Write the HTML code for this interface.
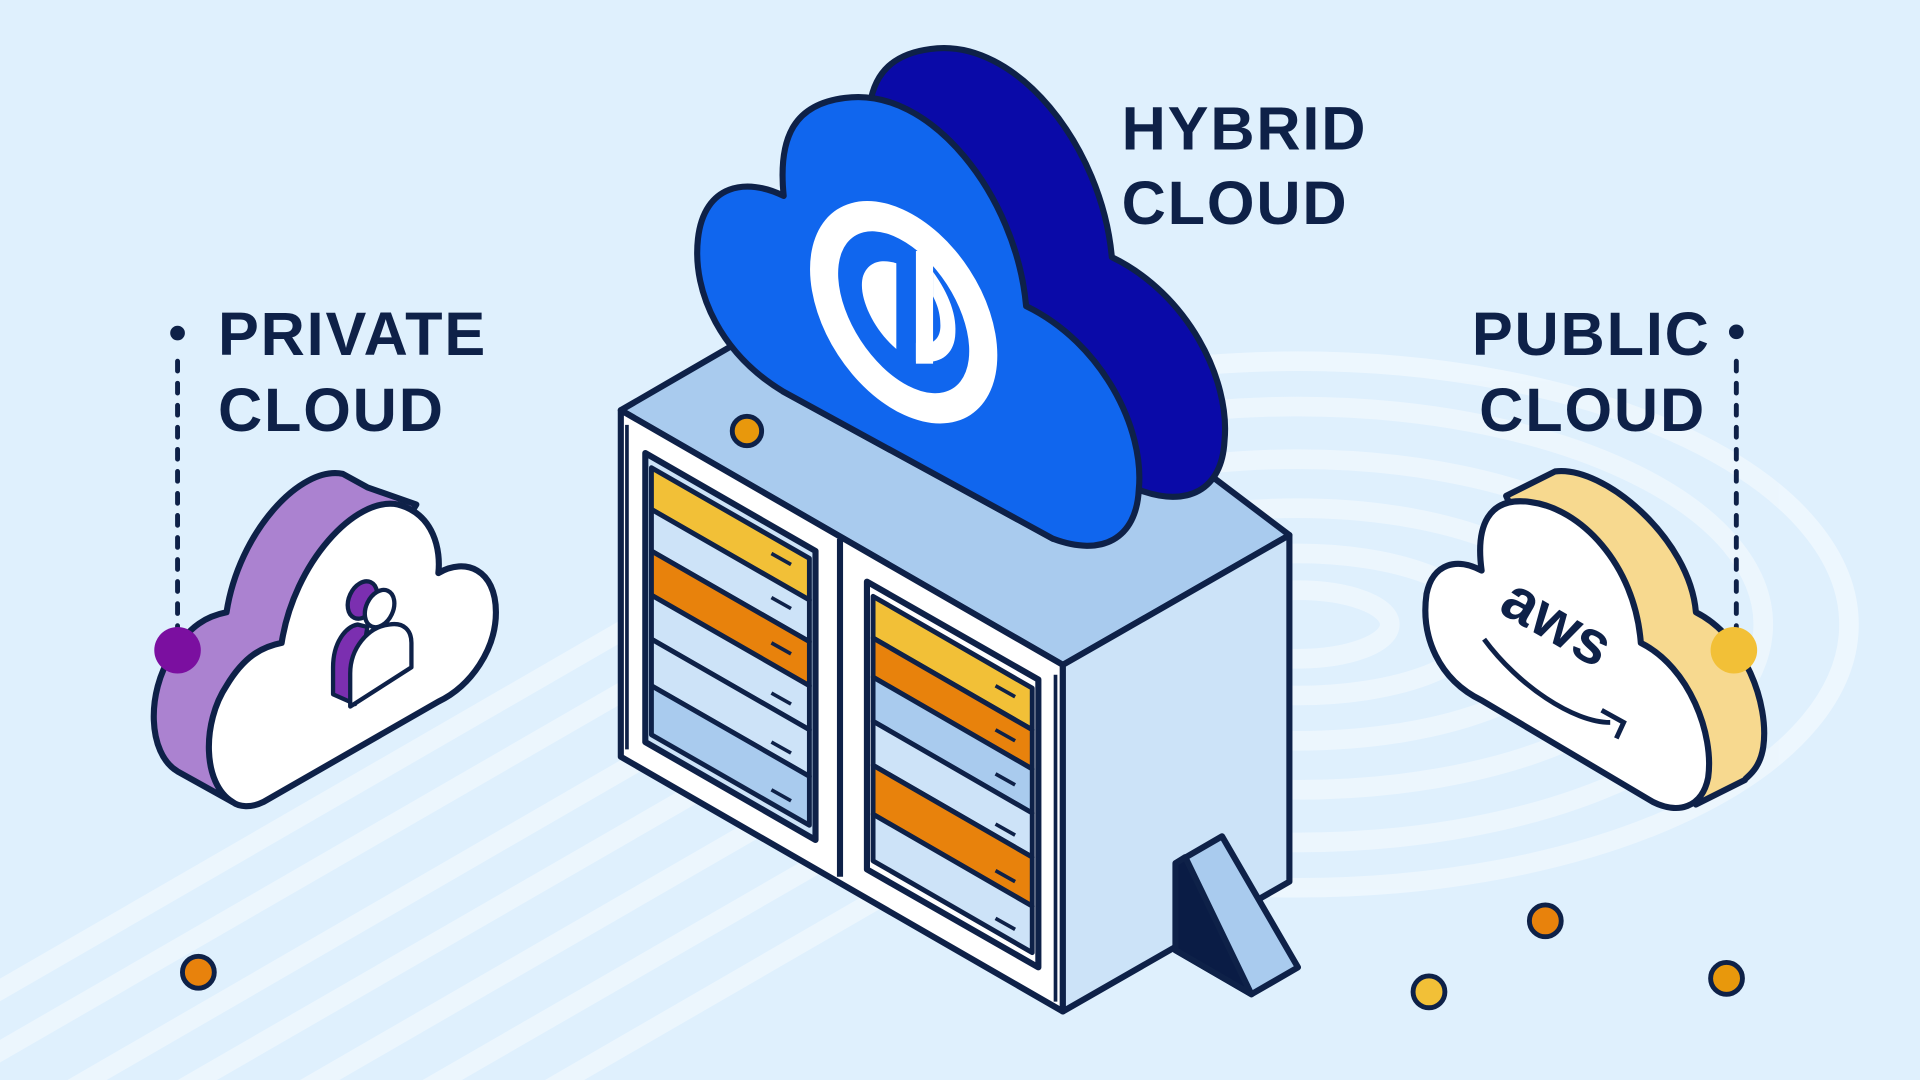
<!DOCTYPE html>
<html><head><meta charset="utf-8"><style>
html,body{margin:0;padding:0;width:1920px;height:1080px;overflow:hidden;background:#dff0fd}
svg{display:block}
text{font-family:"Liberation Sans",sans-serif;font-weight:bold;fill:#0e2148;letter-spacing:1.5px;font-size:50px}
</style></head><body>
<svg width="1920" height="1080" viewBox="0 0 1568 882" xmlns="http://www.w3.org/2000/svg">
<rect width="1568" height="882" fill="#dff0fd"/>
<g stroke="#eef7fe" stroke-width="16" fill="none" opacity="0.9">
<line x1="-20" y1="820" x2="560" y2="485"/>
<line x1="-20" y1="870" x2="600" y2="512"/>
<line x1="40" y1="900" x2="640" y2="553"/>
<line x1="130" y1="900" x2="690" y2="577"/>
<line x1="230" y1="900" x2="720" y2="617"/>
<line x1="330" y1="900" x2="760" y2="652"/>
<line x1="430" y1="900" x2="800" y2="686"/>
<ellipse cx="1060" cy="510" rx="75" ry="28"/>
<ellipse cx="1060" cy="510" rx="150" ry="58"/>
<ellipse cx="1060" cy="510" rx="230" ry="95"/>
<ellipse cx="1060" cy="510" rx="310" ry="135"/>
<ellipse cx="1060" cy="510" rx="380" ry="178"/>
<ellipse cx="1060" cy="510" rx="450" ry="215"/>
</g>
<g stroke="#0e2148" stroke-width="5" stroke-linejoin="round">
<polygon points="507,335 740,200 1053,437 868,543" fill="#a9cbee"/>
<polygon points="507,335 868,543 868,826 507,618" fill="#fff"/>
<polygon points="868,543 1053,437 1053,720 868,826" fill="#cce3f8"/>
<line x1="686" y1="440" x2="686" y2="716"/>
<line x1="512" y1="347" x2="512" y2="612" stroke-width="3"/>
<line x1="862" y1="551" x2="862" y2="818" stroke-width="3"/>
<polygon points="527,370 666,450 666,686 527,606" fill="#cde3f8"/>
<g stroke-width="4">
<polygon points="532,382 661,456 661,490 532,416" fill="#f2c037"/>
<polygon points="532,416 661,490 661,524 532,450" fill="#cde3f8"/>
<polygon points="532,450 661,524 661,560 532,486" fill="#e8820c"/>
<polygon points="532,486 661,560 661,596 532,522" fill="#cde3f8"/>
<polygon points="532,522 661,596 661,634 532,560" fill="#cde3f8"/>
<polygon points="532,560 661,634 661,674 532,600" fill="#a9cbee"/>
<polygon points="713,487 843,562 843,596 713,521" fill="#f2c037"/>
<polygon points="713,521 843,596 843,628 713,553" fill="#e8820c"/>
<polygon points="713,553 843,628 843,664 713,589" fill="#a9cbee"/>
<polygon points="713,589 843,664 843,700 713,625" fill="#cde3f8"/>
<polygon points="713,625 843,700 843,740 713,665" fill="#e8820c"/>
<polygon points="713,665 843,740 843,778 713,703" fill="#cde3f8"/>
</g>
<polygon points="708,475 848,555 848,790 708,710" fill="none"/>
<g stroke-width="3">
<line x1="630" y1="452" x2="646" y2="461"/><line x1="630" y1="488" x2="646" y2="497"/>
<line x1="630" y1="525" x2="646" y2="534"/><line x1="630" y1="566" x2="646" y2="575"/>
<line x1="630" y1="606" x2="646" y2="615"/><line x1="630" y1="645" x2="646" y2="654"/>
<line x1="813" y1="560" x2="829" y2="569"/><line x1="813" y1="596" x2="829" y2="605"/>
<line x1="813" y1="632" x2="829" y2="641"/><line x1="813" y1="673" x2="829" y2="682"/>
<line x1="813" y1="711" x2="829" y2="720"/><line x1="813" y1="750" x2="829" y2="759"/>
</g>
<polygon points="960,705 998,683 1060,790 1022,812 960,776" fill="#a9cbee"/>
<polygon points="960,705 968,700 1022,812 960,776" fill="#0a1c45"/>
<path d="M710,300 C660,270 635,220 640,175 C645,130 680,125 710,140 C705,90 720,65 760,60 C830,50 900,140 908,230 C970,260 1005,330 1000,380 C998,420 970,435 930,420 Z" transform="translate(0,-20)" fill="#0a0aa8"/>
<polygon points="640,320 710,280 930,400 860,440" fill="#0a0aa8"/>
<path d="M640,320 C590,290 565,240 570,195 C575,150 610,145 640,160 C635,110 650,85 690,80 C760,70 830,160 838,250 C900,280 935,350 930,400 C928,440 900,455 860,440 Z" fill="#1066ee"/>
<path d="M145,630 C120,615 120,565 140,535 C155,510 170,503 185,500 C195,435 245,380 280,387 L300,398 L340,412 L190,655 Z" fill="#ab82d0"/>
<path d="M190,655 C165,640 165,590 185,560 C200,535 215,528 230,525 C240,460 290,405 325,412 C355,420 360,450 358,468 C380,455 405,465 405,500 C405,530 385,560 358,573 L215,655 C205,660 195,659 190,655 Z" fill="#fff"/>
<path d="M1230,405 L1270,385 C1310,380 1380,440 1385,500 C1425,520 1445,575 1440,610 C1437,630 1425,635 1425,637 L1385,657 L1300,560 Z" fill="#f7d98f"/>
<path d="M1210,572 C1175,555 1160,520 1165,485 C1170,460 1190,455 1210,466 C1205,430 1215,405 1250,410 C1290,415 1335,460 1340,525 C1380,545 1400,600 1395,635 C1390,660 1370,665 1350,655 Z" fill="#fff"/>
</g>
<g transform="translate(738,255) rotate(-33)">
<ellipse rx="64" ry="100" fill="#fff"/>
<ellipse rx="42" ry="74" fill="#1066ee"/>
</g>
<path d="M732,215 L732,285 C712,268 700,240 705,225 C710,212 722,212 732,215 Z" fill="#fff"/>
<rect x="748" y="205" width="14" height="92" fill="#fff"/>
<path d="M762,222 C775,240 782,258 780,275 C778,292 765,298 748,295 L748,280 C760,283 768,278 768,266 C768,255 765,248 762,242 Z" fill="#fff"/>
<g stroke="#0e2148" stroke-width="3.5" stroke-linejoin="round">
<path d="M272,567 L272,545 C272,525 282,512 292,510 L300,512 L290,575 Z" fill="#7b2fb0"/>
<ellipse cx="296" cy="490" rx="11" ry="16" transform="rotate(25 296 490)" fill="#7b2fb0"/>
<path d="M286,577 L286,550 C286,530 300,512 318,510 C330,508 336,515 336,525 L336,545 Z" fill="#fff"/>
<ellipse cx="310" cy="497" rx="11" ry="16" transform="rotate(25 310 497)" fill="#fff"/>
</g>
<text x="1212" y="522" transform="rotate(30 1260 530)" style="font-size:50px;letter-spacing:0px">aws</text>
<path d="M1212,522 C1240,560 1285,590 1315,590" stroke="#0e2148" stroke-width="4" fill="none"/>
<path d="M1308,580 L1326,590 L1320,603" stroke="#0e2148" stroke-width="4" fill="none"/>
<g stroke="#0e2148" stroke-width="4" stroke-dasharray="8,10" stroke-linecap="round">
<line x1="145" y1="295" x2="145" y2="520"/>
<line x1="1418" y1="295" x2="1418" y2="520"/>
</g>
<circle cx="145" cy="272" r="6" fill="#0e2148"/>
<circle cx="1418" cy="271" r="6" fill="#0e2148"/>
<circle cx="145" cy="531" r="19" fill="#7b0fa0"/>
<circle cx="1416" cy="531" r="19" fill="#f2c037"/>
<g stroke="#0e2148" stroke-width="4">
<circle cx="610" cy="352" r="12" fill="#e8980c"/>
<circle cx="162" cy="794" r="13" fill="#e8820c"/>
<circle cx="1262" cy="752" r="13" fill="#e8820c"/>
<circle cx="1167" cy="810" r="13" fill="#f2c037"/>
<circle cx="1410" cy="799" r="13" fill="#e8980c"/>
</g>
<text x="916" y="122">HYBRID</text>
<text x="916" y="183">CLOUD</text>
<text x="178" y="290">PRIVATE</text>
<text x="178" y="352">CLOUD</text>
<text x="1202" y="290">PUBLIC</text>
<text x="1208" y="352">CLOUD</text>
</svg>
</body></html>
